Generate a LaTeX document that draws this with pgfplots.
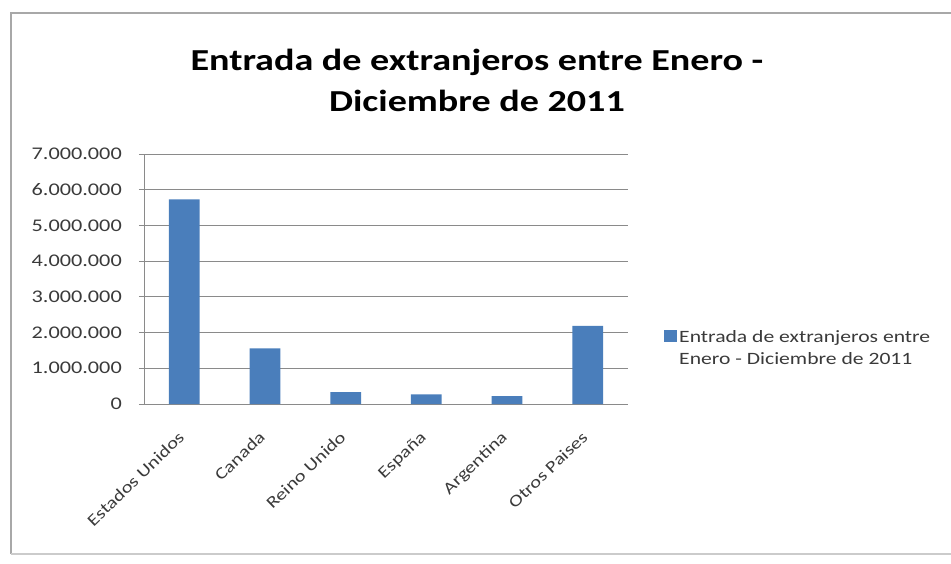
\documentclass[border=0pt]{standalone}
\usepackage{pgfplots}
\pgfplotsset{compat=1.18}
\usepackage{fontspec}
\setmainfont{Carlito}[FakeStretch=1.25]
\definecolor{barblue}{HTML}{4A7EBB}
\definecolor{gridgray}{HTML}{8A8A8A}
\definecolor{labgray}{HTML}{3A3A3A}
\definecolor{framegray}{HTML}{A8A8A8}
\begin{document}
\begin{tikzpicture}[x=1pt,y=1pt]
\path[use as bounding box] (0,0) rectangle (951,563);
\draw[framegray, line width=2pt] (11,9) -- (11,550) -- (955,550);
\draw[framegray!60, line width=1.5pt] (11,9) -- (955,9);
\node[align=center, font=\fontsize{30.5}{41}\selectfont\bfseries] at (477,483) {Entrada de extranjeros entre Enero -\\Diciembre de 2011};
\begin{axis}[
  at={(144pt,159pt)}, anchor=south west,
  scale only axis, width=484pt, height=250pt,
  xmin=-0.5, xmax=5.5, ymin=0, ymax=7000000,
  axis x line*=bottom, axis y line*=left,
  axis line style={gridgray, line width=0.8pt},
  ybar, bar width=30.7pt,
  xtick={0,...,5},
  xticklabels={Estados Unidos,Canada,Reino Unido,España,Argentina,Otros Paises},
  x tick style={draw=none},
  extra x ticks={-0.5,0.5,1.5,2.5,3.5,4.5,5.5},
  extra x tick labels={},
  extra x tick style={grid=none, tick style={draw=gridgray, line width=0.8pt}, major tick length=6pt, tick align=outside},
  xticklabel style={xshift=-7pt, yshift=-21pt, rotate=44, anchor=north east, font=\fontsize{16.5}{19}\selectfont, text=labgray, inner sep=0pt},
  ytick={0,1000000,...,7000000},
  yticklabels={0,1.000.000,2.000.000,3.000.000,4.000.000,5.000.000,6.000.000,7.000.000},
  scaled y ticks=false,
  y tick style={draw=gridgray, line width=0.8pt},
  tick align=outside, major tick length=5pt,
  yticklabel style={font=\fontsize{17.8}{20}\selectfont, text=labgray, inner sep=0pt, xshift=-17pt},
  ymajorgrids, grid style={gridgray, line width=0.9pt},
  legend style={at={(520pt,56pt)}, anchor=west, draw=none, fill=none,
    font=\fontsize{17.3}{22}\selectfont, text=labgray, cells={align=left}, inner sep=0pt},
  legend image code/.code={\fill[barblue] (0pt,6pt) rectangle (13pt,18pt);},
]
\addplot[fill=barblue, draw=none] coordinates {(0,5730000) (1,1560000) (2,330000) (3,270000) (4,220000) (5,2190000)};
\addlegendentry{Entrada de extranjeros entre\\Enero - Diciembre de 2011}
\end{axis}
\end{tikzpicture}
\end{document}
